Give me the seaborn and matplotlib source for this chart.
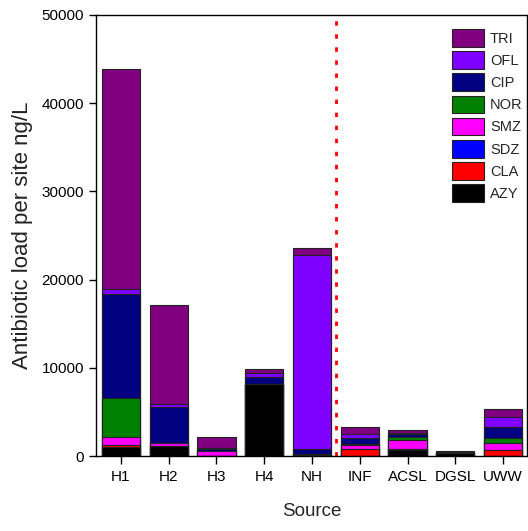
import numpy as np
import pandas as pd
import matplotlib
matplotlib.use("Agg")
import matplotlib.pyplot as plt
from matplotlib.patches import Patch
import seaborn as sns

# Sampling sites
sources = ["H1", "H2", "H3", "H4", "NH", "INF", "ACSL", "DGSL", "UWW"]

# Antibiotic loads per site (ng/L), listed bottom of stack to top
AZY = [1050, 1130, 50, 8160, 100, 0, 680, 330, 0]
CLA = [160, 50, 0, 0, 0, 830, 170, 60, 680]
SDZ = [40, 0, 0, 0, 0, 0, 0, 0, 0]
SMZ = [900, 300, 570, 0, 150, 415, 1020, 0, 830]
NOR = [4450, 0, 0, 50, 0, 100, 230, 0, 570]
CIP = [11800, 4050, 230, 790, 500, 730, 340, 50, 1250]
OFL = [570, 340, 50, 450, 22000, 450, 190, 30, 1130]
TRI = [24950, 11300, 1300, 390, 790, 790, 300, 100, 870]

compounds = ["AZY", "CLA", "SDZ", "SMZ", "NOR", "CIP", "OFL", "TRI"]
loads = [AZY, CLA, SDZ, SMZ, NOR, CIP, OFL, TRI]
colors = ["#000000", "#FF0000", "#0000FF", "#FF00FF",
          "#008000", "#000080", "#8000FF", "#800080"]

df = pd.DataFrame(dict(zip(compounds, loads)), index=sources)
cum = df.cumsum(axis=1)

sns.set_style("ticks")
plt.rcParams["font.family"] = ["Liberation Sans", "DejaVu Sans"]

fig = plt.figure(figsize=(5.28, 5.31), dpi=100)
ax = fig.add_axes([96 / 528, 1 - 456 / 531, 431 / 528, 441 / 531])

# Stacked bars: draw cumulative tops from the highest layer downwards
for name, col in zip(compounds[::-1], colors[::-1]):
    sns.barplot(x=sources, y=cum[name].values, color=col, saturation=1,
                edgecolor="#222222", linewidth=0.8, width=0.8,
                errorbar=None, ax=ax)

ax.axvline(4.5, color="red", linestyle=(0, (1.6, 3.1)), linewidth=2)

ax.set_xlim(-0.52, 8.5)
ax.set_ylim(0, 50000)
ax.set_yticks(np.arange(0, 50001, 10000))
ax.tick_params(axis="both", direction="out", length=5, width=1,
               labelsize=11, colors="black")
ax.tick_params(axis="x", length=6, pad=4)
for sp in ax.spines.values():
    sp.set_visible(True)
    sp.set_color("black")
    sp.set_linewidth(1)

ax.set_xlabel("Source", fontsize=13.5, labelpad=14)
ax.set_ylabel("Antibiotic load per site ng/L", fontsize=16, labelpad=6,
              color="#222222")

handles = [Patch(facecolor=c, edgecolor="#222222", linewidth=0.8, label=n)
           for n, c in zip(compounds[::-1], colors[::-1])]
ax.legend(handles=handles, loc="upper left",
          bbox_to_anchor=(452 / 528, 1 - 29 / 531),
          bbox_transform=fig.transFigure, frameon=False,
          fontsize=10.5, borderpad=0, borderaxespad=0,
          handlelength=2.2, handleheight=1.5, labelspacing=0.3,
          handletextpad=0.4)

fig.savefig("out.png", dpi=100)
